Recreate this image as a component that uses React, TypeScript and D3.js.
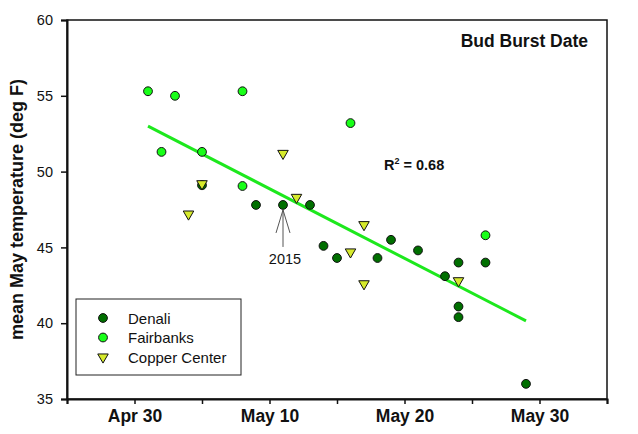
import { useEffect, useRef } from "react";
import * as d3 from "d3";

// Bud burst date vs mean May temperature
const denaliDates = ["05-05", "05-09", "05-11", "05-13", "05-14", "05-15", "05-18", "05-19", "05-21", "05-23", "05-24", "05-24", "05-24", "05-26", "05-29"];
const denaliTemps = [49.1, 47.8, 47.8, 47.8, 45.1, 44.3, 44.3, 45.5, 44.8, 43.1, 44.0, 41.1, 40.4, 44.0, 36.0];

const fairbanksDates = ["05-01", "05-02", "05-03", "05-05", "05-08", "05-08", "05-16", "05-26"];
const fairbanksTemps = [55.3, 51.3, 55.0, 51.3, 55.3, 49.05, 53.2, 45.8];

const copperDates = ["05-04", "05-05", "05-11", "05-12", "05-16", "05-17", "05-17", "05-24"];
const copperTemps = [47.2, 49.2, 51.2, 48.3, 44.7, 46.5, 42.6, 42.8];

// regression line end points
const fitDates = ["05-01", "05-29"];
const fitTemps = [53.0, 40.15];

const yTicks = [35, 40, 45, 50, 55, 60];
const xDomain = ["04-25", "06-04"];

const FONT = "'Liberation Sans', Arial, Helvetica, sans-serif";
const parse = d3.utcParse("%Y-%m-%d");
const toDate = (md: string) => parse(`2015-${md}`) as Date;

export default function App() {
  const svgRef = useRef<SVGSVGElement>(null);

  useEffect(() => {
    if (!svgRef.current) return;
    const svg = d3.select(svgRef.current);
    svg.selectAll("*").remove();

    const left = 67, right = 607, top = 20, bottom = 399;

    const x = d3.scaleUtc().domain(xDomain.map(toDate)).range([left, right]);
    const y = d3.scaleLinear().domain([35, 60]).range([bottom, top]);

    // frame
    svg.append("rect")
      .attr("x", left).attr("y", top)
      .attr("width", right - left).attr("height", bottom - top)
      .attr("fill", "white").attr("stroke", "#111").attr("stroke-width", 1.5);

    // axes
    const xTicks = d3.utcDay.range(toDate(xDomain[0]), d3.utcDay.offset(toDate(xDomain[1]), 1), 5);
    const fmt = d3.utcFormat("%b %-d");
    const xAxis = d3.axisBottom(x)
      .tickValues(xTicks)
      .tickSize(5)
      .tickPadding(6)
      .tickFormat((d, i) => (i % 2 === 1 ? fmt(d as Date) : ""));
    const gx = svg.append("g").attr("transform", `translate(0,${bottom})`).call(xAxis);
    gx.select(".domain").attr("stroke", "#111").attr("stroke-width", 2);
    gx.selectAll(".tick line").attr("stroke", "#111").attr("stroke-width", 1.5);
    gx.selectAll(".tick text")
      .attr("font-family", FONT).attr("font-size", "17.5px").attr("font-weight", "700").attr("fill", "#111");

    const yAxis = d3.axisLeft(y).tickValues(yTicks).tickSize(6).tickPadding(8);
    const gy = svg.append("g").attr("transform", `translate(${left},0)`).call(yAxis);
    gy.select(".domain").attr("stroke", "#111").attr("stroke-width", 2);
    gy.selectAll(".tick line").attr("stroke", "#111").attr("stroke-width", 1.5);
    gy.selectAll(".tick text")
      .attr("font-family", FONT).attr("font-size", "14.5px").attr("fill", "#111");

    // y label
    svg.append("text")
      .attr("transform", `translate(23,${(top + bottom) / 2}) rotate(-90)`)
      .attr("text-anchor", "middle")
      .attr("font-family", FONT).attr("font-size", "18px").attr("font-weight", "700")
      .attr("fill", "#111")
      .text("mean May temperature (deg F)");

    // fit line
    const line = d3.line<number>()
      .x((_, i) => x(toDate(fitDates[i])))
      .y((d) => y(d));
    svg.append("path")
      .attr("d", line(fitTemps))
      .attr("fill", "none").attr("stroke", "#1de81d").attr("stroke-width", 3);

    const tri = d3.symbol().type(d3.symbolTriangle).size(48);

    // Denali
    svg.append("g").selectAll("circle")
      .data(denaliTemps)
      .join("circle")
      .attr("cx", (_, i) => x(toDate(denaliDates[i])))
      .attr("cy", (d) => y(d))
      .attr("r", 4.4)
      .attr("fill", "#006f00").attr("stroke", "#111").attr("stroke-width", 1);

    // Fairbanks
    svg.append("g").selectAll("circle")
      .data(fairbanksTemps)
      .join("circle")
      .attr("cx", (_, i) => x(toDate(fairbanksDates[i])))
      .attr("cy", (d) => y(d))
      .attr("r", 4.4)
      .attr("fill", "#18ff18").attr("stroke", "#111").attr("stroke-width", 1);

    // Copper Center
    svg.append("g").selectAll("path")
      .data(copperTemps)
      .join("path")
      .attr("d", tri)
      .attr("transform", (d, i) => `translate(${x(toDate(copperDates[i]))},${y(d)}) rotate(180)`)
      .attr("fill", "#d6ea2c").attr("stroke", "#111").attr("stroke-width", 1);

    // 2015 annotation
    const ax = x(toDate("05-11"));
    const ay = y(47.8) + 5;
    const ann = svg.append("g").attr("stroke", "#555").attr("stroke-width", 1).attr("fill", "none");
    ann.append("line").attr("x1", ax).attr("y1", ay).attr("x2", ax).attr("y2", ay + 37);
    ann.append("line").attr("x1", ax).attr("y1", ay).attr("x2", ax - 7).attr("y2", ay + 23);
    ann.append("line").attr("x1", ax).attr("y1", ay).attr("x2", ax + 7).attr("y2", ay + 23);
    svg.append("text")
      .attr("x", ax + 2).attr("y", ay + 54)
      .attr("text-anchor", "middle")
      .attr("font-family", FONT).attr("font-size", "14.5px").attr("fill", "#111")
      .text("2015");

    // title
    svg.append("text")
      .attr("x", 588).attr("y", 47)
      .attr("text-anchor", "end")
      .attr("font-family", FONT).attr("font-size", "17.5px").attr("font-weight", "700")
      .attr("fill", "#111")
      .text("Bud Burst Date");

    // R squared
    const r2 = svg.append("text")
      .attr("x", 384).attr("y", 170)
      .attr("font-family", FONT).attr("font-size", "14.5px").attr("font-weight", "700")
      .attr("fill", "#111");
    r2.append("tspan").text("R");
    r2.append("tspan").attr("font-size", "9px").attr("dy", -6).text("2");
    r2.append("tspan").attr("dy", 6).text(" = 0.68");

    // legend
    const lg = svg.append("g");
    lg.append("rect")
      .attr("x", 76).attr("y", 299).attr("width", 165).attr("height", 76)
      .attr("fill", "white").attr("stroke", "#222").attr("stroke-width", 1);
    const items = [
      { name: "Denali", color: "#006f00", shape: "circle" },
      { name: "Fairbanks", color: "#18ff18", shape: "circle" },
      { name: "Copper Center", color: "#d6ea2c", shape: "triangle" },
    ];
    items.forEach((it, i) => {
      const cy = 318 + i * 19.5;
      if (it.shape === "circle") {
        lg.append("circle").attr("cx", 103).attr("cy", cy).attr("r", 4.4)
          .attr("fill", it.color).attr("stroke", "#111").attr("stroke-width", 1);
      } else {
        lg.append("path").attr("d", tri)
          .attr("transform", `translate(103,${cy}) rotate(180)`)
          .attr("fill", it.color).attr("stroke", "#111").attr("stroke-width", 1);
      }
      lg.append("text")
        .attr("x", 128).attr("y", cy + 5.5)
        .attr("font-family", FONT).attr("font-size", "15px").attr("fill", "#111")
        .text(it.name);
    });
  }, []);

  return (
    <svg
      ref={svgRef}
      width={638}
      height={434}
      style={{ position: "absolute", left: 0, top: 0, background: "white" }}
    />
  );
}
